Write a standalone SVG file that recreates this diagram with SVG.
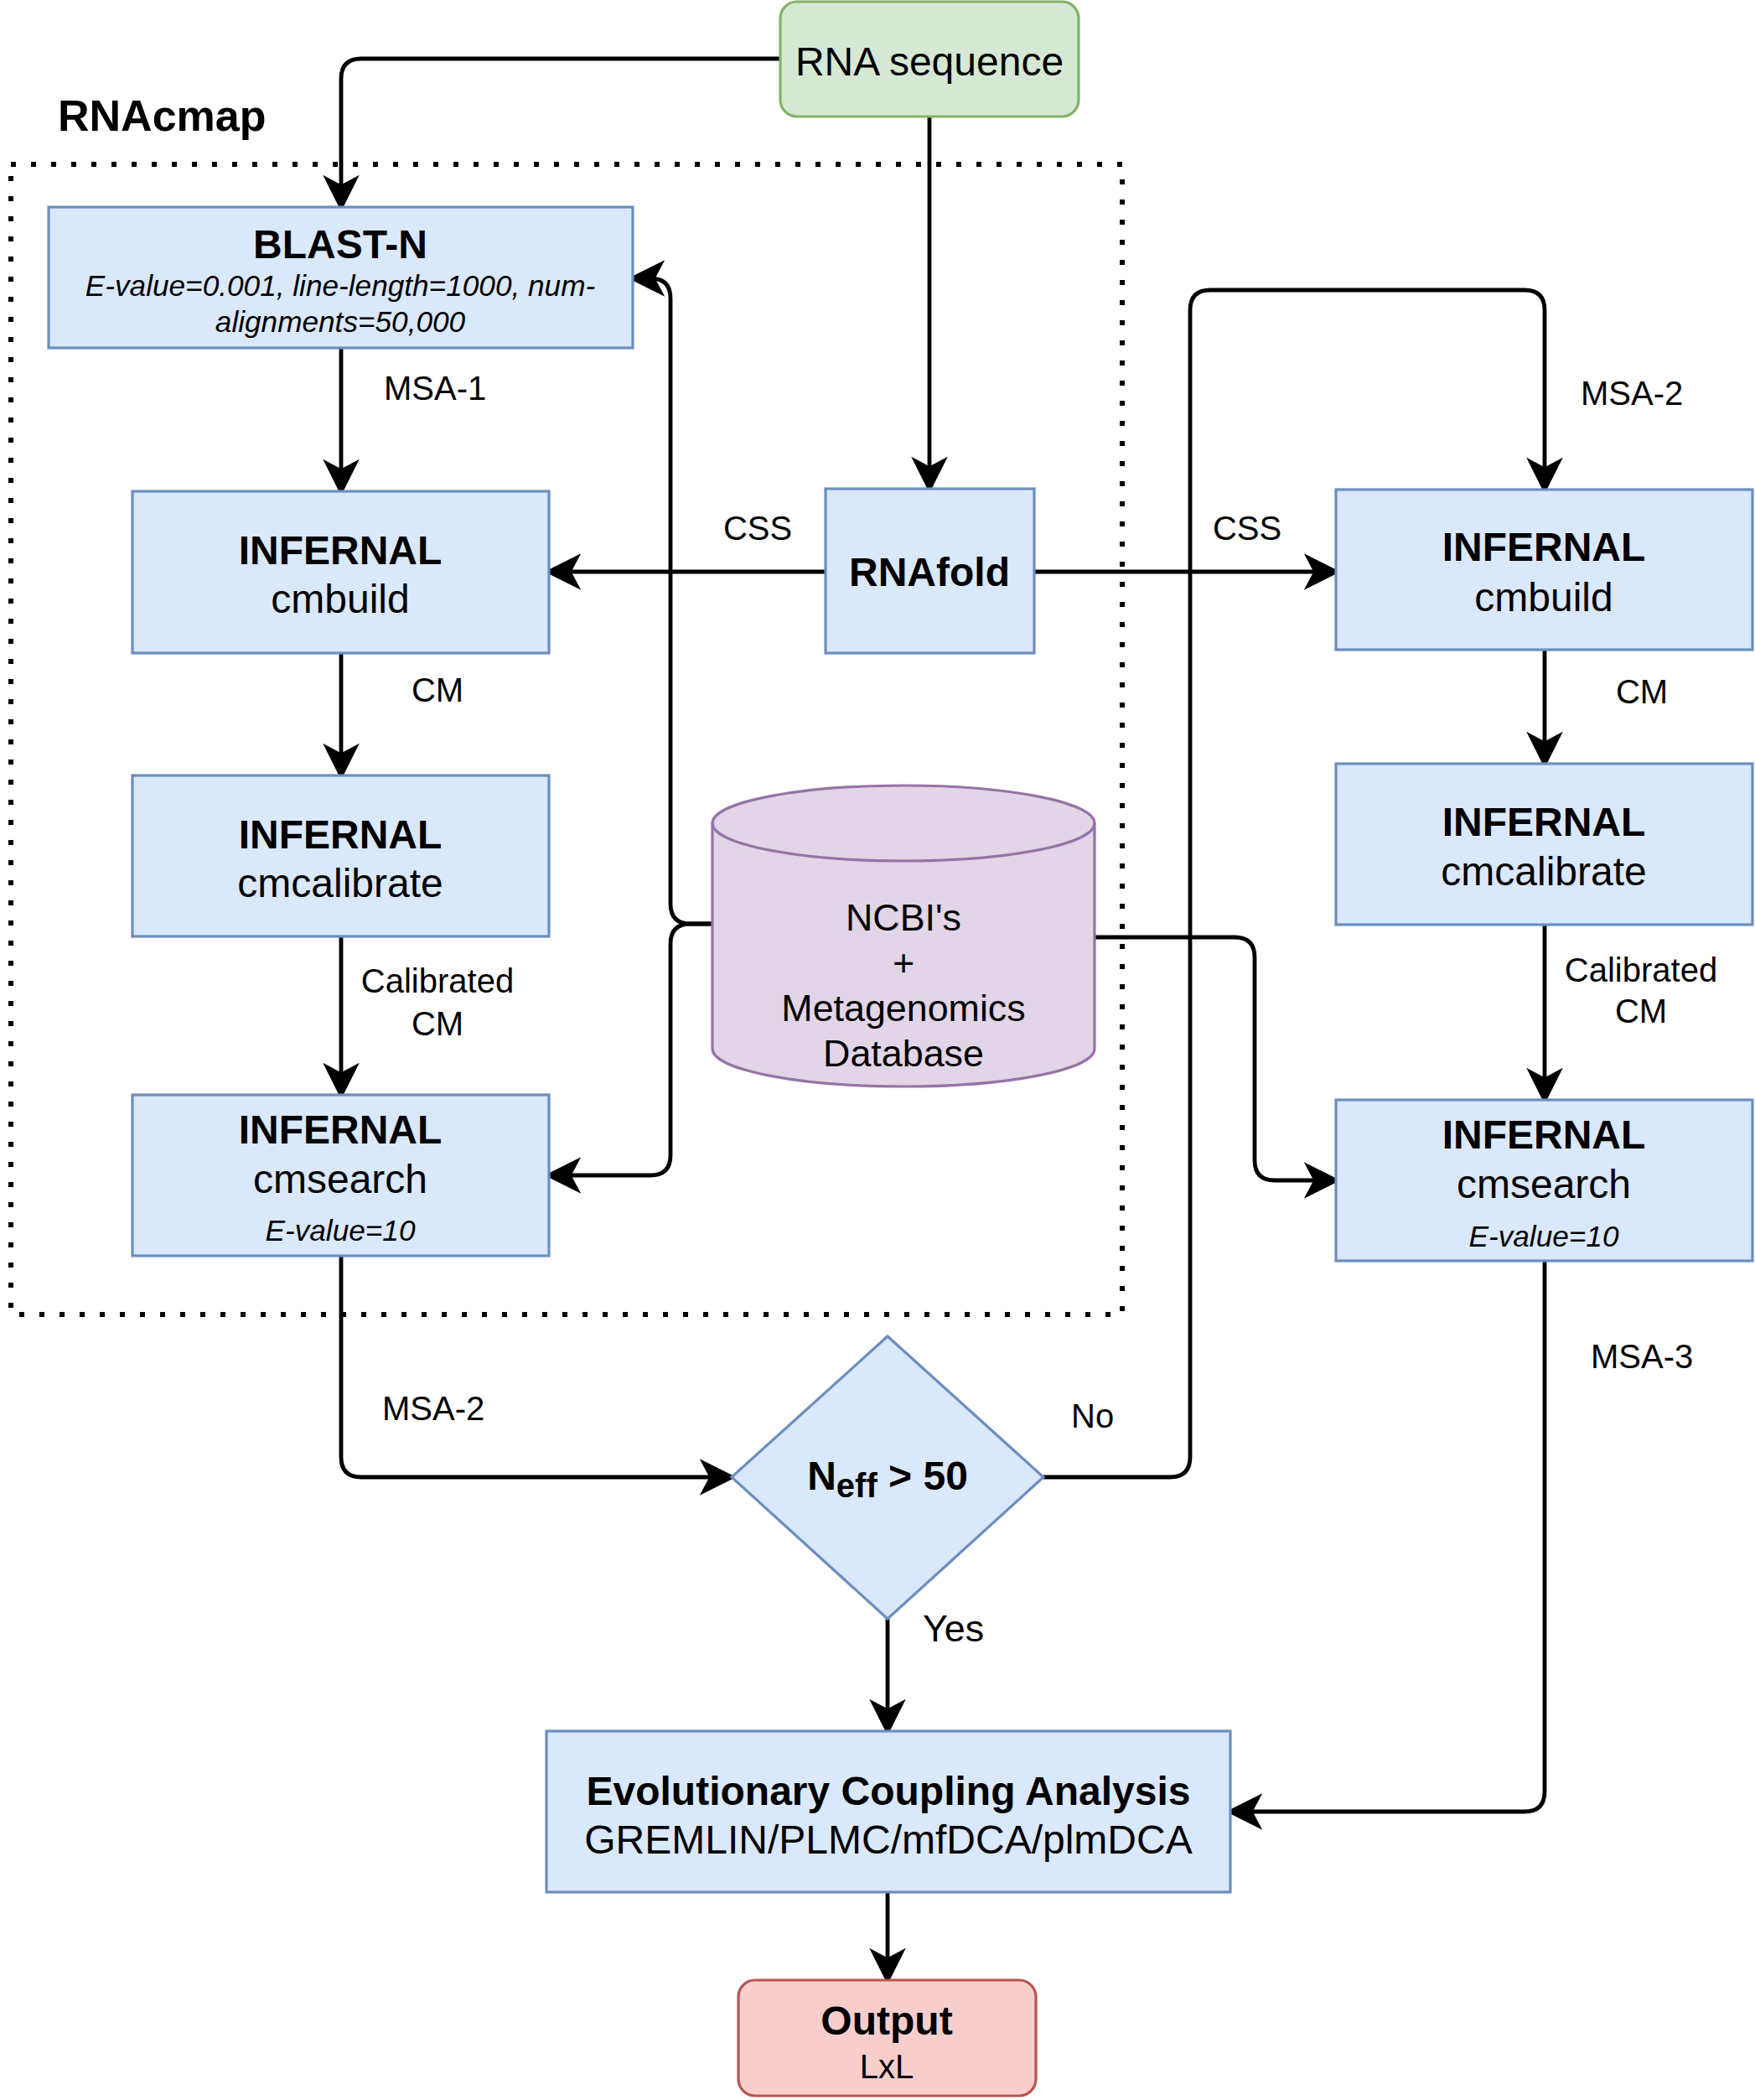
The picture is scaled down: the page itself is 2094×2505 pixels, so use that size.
<svg xmlns="http://www.w3.org/2000/svg" width="2094" height="2505" viewBox="0 0 2094 2505">
<style>
text{font-family:"Liberation Sans",Arial,Helvetica,sans-serif;fill:#000}
.box{fill:#dae8fc;stroke:#6c8ebf;stroke-width:3.2}
.t48{font-size:48px;text-anchor:middle}
.b{font-weight:bold}
.it{font-size:35.2px;font-style:italic;text-anchor:middle}
.lbl{font-size:40px}
.c{text-anchor:middle}
.conn path{fill:none;stroke:#000;stroke-width:4.8}
</style>
<defs>
<marker id="arr" markerUnits="userSpaceOnUse" orient="auto" markerWidth="60" markerHeight="60" refX="0" refY="0" viewBox="-20 -25 45 50" overflow="visible">
<path d="M20,0 L-14,-17 L-5,0 L-14,17 Z" fill="#000" stroke="#000" stroke-width="1"/>
</marker>
</defs>
<rect width="2094" height="2505" fill="#fff"/>

<g id="rnacmap-frame">
<rect x="13" y="196" width="1326" height="1372" fill="none" stroke="#000" stroke-width="6" stroke-dasharray="6 18"/>
<text x="69" y="156" font-size="52" font-weight="bold">RNAcmap</text>
</g>

<g class="conn" id="connectors">
<path d="M931,70 H431 Q407,70 407,94 V227" marker-end="url(#arr)"/>
<path d="M1109,139 V563" marker-end="url(#arr)"/>
<path d="M407,415 V566" marker-end="url(#arr)"/>
<path d="M985,682 H675" marker-end="url(#arr)"/>
<path d="M1234,682 H1574" marker-end="url(#arr)"/>
<path d="M407,779 V905" marker-end="url(#arr)"/>
<path d="M407,1117 V1286" marker-end="url(#arr)"/>
<path d="M850,1102 H824 Q800,1102 800,1078 V356 Q800,332 776,332 H775" marker-end="url(#arr)"/>
<path d="M850,1102 H824 Q800,1102 800,1126 V1378 Q800,1402 776,1402 H675" marker-end="url(#arr)"/>
<path d="M1306,1118 H1473 Q1497,1118 1497,1142 V1384 Q1497,1408 1521,1408 H1574" marker-end="url(#arr)"/>
<path d="M407,1498 V1738 Q407,1762 431,1762 H853" marker-end="url(#arr)"/>
<path d="M1245,1762 H1396 Q1420,1762 1420,1738 V370 Q1420,346 1444,346 H1819 Q1843,346 1843,370 V564" marker-end="url(#arr)"/>
<path d="M1843,775 V891" marker-end="url(#arr)"/>
<path d="M1843,1103 V1292" marker-end="url(#arr)"/>
<path d="M1843,1504 V2137 Q1843,2161 1819,2161 H1488" marker-end="url(#arr)"/>
<path d="M1059,1931 V2045" marker-end="url(#arr)"/>
<path d="M1059,2257 V2342" marker-end="url(#arr)"/>
</g>

<g id="connector-labels" class="lbl">
<text x="458" y="477">MSA-1</text>
<text x="904" y="644" class="c">CSS</text>
<text x="1488" y="644" class="c">CSS</text>
<text x="522" y="837" class="c">CM</text>
<text x="522" y="1184" class="c">Calibrated</text>
<text x="522" y="1235" class="c">CM</text>
<text x="1886" y="483">MSA-2</text>
<text x="1959" y="839" class="c">CM</text>
<text x="1958" y="1171" class="c">Calibrated</text>
<text x="1958" y="1220" class="c">CM</text>
<text x="456" y="1694">MSA-2</text>
<text x="1278" y="1703">No</text>
<text x="1101" y="1958" font-size="44.8">Yes</text>
<text x="1898" y="1632">MSA-3</text>
</g>

<g id="rna-sequence">
<rect x="931" y="2" width="356" height="137" rx="20" ry="20" fill="#d5e8d4" stroke="#82b366" stroke-width="3.2"/>
<text x="1109" y="90" class="t48">RNA sequence</text>
</g>

<g id="blast-n">
<rect x="58" y="247" width="697" height="168" class="box"/>
<text x="406" y="308" class="t48 b">BLAST-N</text>
<text x="406" y="353" class="it">E-value=0.001, line-length=1000, num-</text>
<text x="406" y="396" class="it">alignments=50,000</text>
</g>

<g id="cmbuild-left">
<rect x="158" y="586" width="497" height="193" class="box"/>
<text x="406" y="673" class="t48 b">INFERNAL</text>
<text x="406" y="731" class="t48">cmbuild</text>
</g>

<g id="rnafold">
<rect x="985" y="583" width="249" height="196" class="box"/>
<text x="1109" y="699" class="t48 b">RNAfold</text>
</g>

<g id="cmcalibrate-left">
<rect x="158" y="925" width="497" height="192" class="box"/>
<text x="406" y="1012" class="t48 b">INFERNAL</text>
<text x="406" y="1070" class="t48">cmcalibrate</text>
</g>

<g id="cmsearch-left">
<rect x="158" y="1306" width="497" height="192" class="box"/>
<text x="406" y="1364" class="t48 b">INFERNAL</text>
<text x="406" y="1423" class="t48">cmsearch</text>
<text x="406" y="1480" class="it">E-value=10</text>
</g>

<g id="database">
<path d="M850,982 A228,45 0 0 1 1306,982 V1251 A228,45 0 0 1 850,1251 Z" fill="#e1d5e7" stroke="#9673a6" stroke-width="3.2"/>
<path d="M850,982 A228,45 0 0 0 1306,982" fill="none" stroke="#9673a6" stroke-width="3.2"/>
<text x="1078" y="1110" class="c" font-size="44.8">NCBI's</text>
<text x="1078" y="1164" class="c" font-size="44.8">+</text>
<text x="1078" y="1218" class="c" font-size="44.8">Metagenomics</text>
<text x="1078" y="1272" class="c" font-size="44.8">Database</text>
</g>

<g id="cmbuild-right">
<rect x="1594" y="584" width="497" height="191" class="box"/>
<text x="1842" y="669" class="t48 b">INFERNAL</text>
<text x="1842" y="729" class="t48">cmbuild</text>
</g>

<g id="cmcalibrate-right">
<rect x="1594" y="911" width="497" height="192" class="box"/>
<text x="1842" y="997" class="t48 b">INFERNAL</text>
<text x="1842" y="1056" class="t48">cmcalibrate</text>
</g>

<g id="cmsearch-right">
<rect x="1594" y="1312" width="497" height="192" class="box"/>
<text x="1842" y="1370" class="t48 b">INFERNAL</text>
<text x="1842" y="1429" class="t48">cmsearch</text>
<text x="1842" y="1487" class="it">E-value=10</text>
</g>

<g id="neff-decision">
<polygon points="1059,1594 1245,1762 1059,1931 873,1762" class="box"/>
<text x="1059" y="1777" class="t48 b">N<tspan font-size="40" dy="9">eff</tspan><tspan dy="-9"> &gt; 50</tspan></text>
</g>

<g id="eca">
<rect x="652" y="2065" width="816" height="192" class="box"/>
<text x="1060" y="2153" class="t48 b">Evolutionary Coupling Analysis</text>
<text x="1060" y="2211" class="t48">GREMLIN/PLMC/mfDCA/plmDCA</text>
</g>

<g id="output">
<rect x="881" y="2362" width="355" height="138" rx="20" ry="20" fill="#f8cecc" stroke="#b85450" stroke-width="3.2"/>
<text x="1058" y="2427" class="t48 b">Output</text>
<text x="1058" y="2479" class="c" font-size="40">LxL</text>
</g>
</svg>
